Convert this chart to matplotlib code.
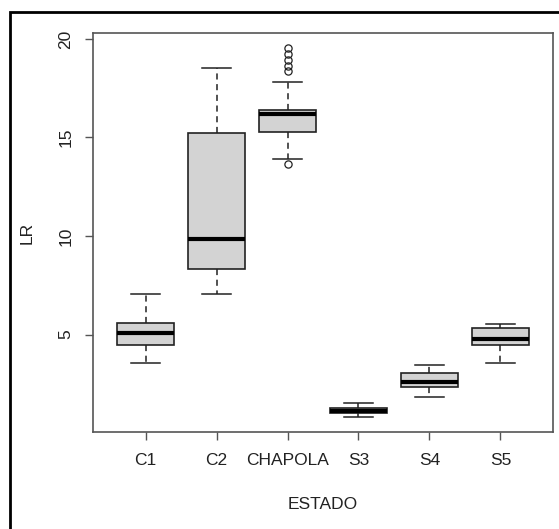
"""Boxplot of LR by ESTADO, R base-graphics look."""
import matplotlib
matplotlib.use("Agg")
import matplotlib.pyplot as plt
from matplotlib.patches import Rectangle

plt.rcParams["font.family"] = ["Liberation Sans", "DejaVu Sans"]

# five-number summaries
estados = ["C1", "C2", "CHAPOLA", "S3", "S4", "S5"]
whislo = [3.58, 7.05, 13.91, 0.84, 1.82, 3.58]
q1 = [4.47, 8.33, 15.27, 1.01, 2.33, 4.47]
med = [5.07, 9.85, 16.19, 1.14, 2.58, 4.76]
q3 = [5.58, 15.25, 16.40, 1.26, 3.04, 5.35]
whishi = [7.06, 18.51, 17.80, 1.52, 3.46, 5.54]
fliers = [[], [], [19.55, 19.25, 18.95, 18.65, 18.35, 13.66], [], [], []]

stats = []
for i, name in enumerate(estados):
    stats.append(dict(label=name, whislo=whislo[i], q1=q1[i], med=med[i],
                      q3=q3[i], whishi=whishi[i], fliers=fliers[i]))

W, H = 559, 529
fig = plt.figure(figsize=(W / 100, H / 100), dpi=100)
ax = fig.add_axes([93 / W, (H - 432) / H, (553 - 93) / W, (432 - 33) / H])

ax.bxp(
    stats, positions=range(1, 7), widths=0.8, patch_artist=True,
    boxprops=dict(facecolor="#d3d3d3", edgecolor="#222222", linewidth=1.2),
    medianprops=dict(color="black", linewidth=3, solid_capstyle="butt"),
    whiskerprops=dict(color="#222222", linewidth=1.1, linestyle=(0, (4, 3))),
    capprops=dict(color="#222222", linewidth=1.1), capwidths=0.4,
    flierprops=dict(marker="o", markerfacecolor="none", markeredgecolor="#222222",
                    markersize=5.2, markeredgewidth=0.9),
)

ax.set_xlim(0.26, 6.74)
ax.set_ylim(0.06, 20.30)
ax.set_yticks([5, 10, 15, 20])
ax.set_yticklabels(["5", "10", "15", "20"], rotation=90, va="center")
ax.set_xticks(range(1, 7))
ax.set_xticklabels(estados)
ax.tick_params(axis="both", length=6, width=1, color="#555555", labelsize=12.5,
               labelcolor="#222222")
ax.tick_params(axis="x", pad=9)
ax.tick_params(axis="y", pad=8)
for s in ax.spines.values():
    s.set_color("#555555")
    s.set_linewidth(1.2)

ax.set_xlabel("ESTADO", fontsize=12.5, color="#222222", labelpad=21)
ax.set_ylabel("LR", fontsize=12.5, color="#222222", labelpad=17)

# outer frame, partly cut off by the image edges
fig.patches.append(Rectangle((9.5 / W, -0.1), 1.2, (H - 12) / H + 0.1,
                             transform=fig.transFigure, fill=False,
                             edgecolor="black", linewidth=2))

fig.savefig("out.png", dpi=100, facecolor="white")
